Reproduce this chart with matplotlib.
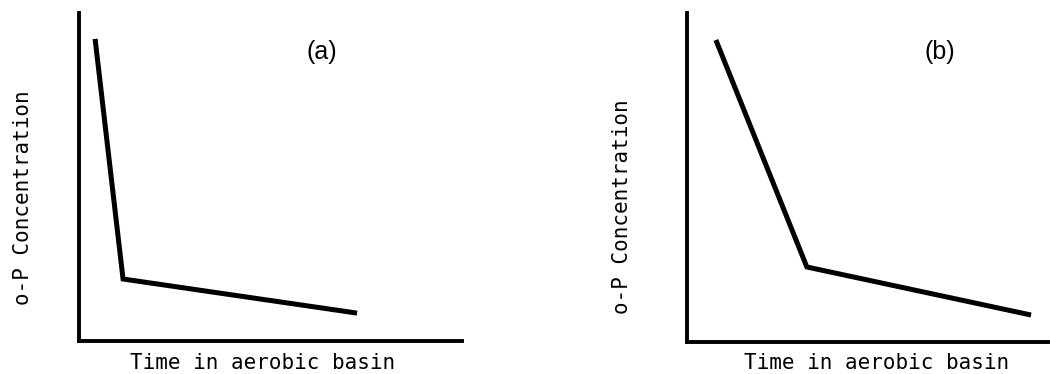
import matplotlib
matplotlib.use("Agg")
import matplotlib.pyplot as plt

# schematic curves, axis units 0-100 (no ticks on the original)
time_a = [4.2, 11.5, 72.6]
conc_a = [92.1, 18.9, 8.5]
time_b = [8.0, 33.2, 95.3]
conc_b = [91.8, 22.8, 8.2]

panel_tags = ["(a)", "(b)"]
xlabel = "Time in aerobic basin"
ylabel = "o-P Concentration"

W, H = 1050, 374
fig = plt.figure(figsize=(W / 100, H / 100), dpi=100)

# pixel boxes: left, right, top, bottom
boxes = [(79, 462, 13, 341), (687, 1048, 13, 342)]
series = [(time_a, conc_a), (time_b, conc_b)]
ylab_pos = [(-0.146, 0.436), (-0.18, 0.41)]
xlab_pos = [(0.478, -0.067), (0.526, -0.064)]
tag_pos = [(0.634, 0.881), (0.70, 0.881)]

mono = "DejaVu Sans Mono"

for i, (l, r, t, b) in enumerate(boxes):
    ax = fig.add_axes([l / W, 1 - b / H, (r - l) / W, (b - t) / H])
    x, y = series[i]
    ax.plot(x, y, color="black", lw=3.6, solid_joinstyle="miter",
            solid_capstyle="butt")
    ax.set_xlim(0, 100)
    ax.set_ylim(0, 100)
    for s in ["top", "right"]:
        ax.spines[s].set_visible(False)
    for s in ["left", "bottom"]:
        ax.spines[s].set_linewidth(2.8)
    ax.set_xticks([])
    ax.set_yticks([])
    ax.set_xlabel(xlabel, family=mono, fontsize=15, va="center")
    ax.set_ylabel(ylabel, family=mono, fontsize=15, va="center")
    ax.xaxis.set_label_coords(*xlab_pos[i])
    ax.yaxis.set_label_coords(*ylab_pos[i])
    ax.text(*tag_pos[i], panel_tags[i], transform=ax.transAxes,
            family="Liberation Sans", fontsize=18, ha="center", va="center")

fig.savefig("out.png", dpi=100)
